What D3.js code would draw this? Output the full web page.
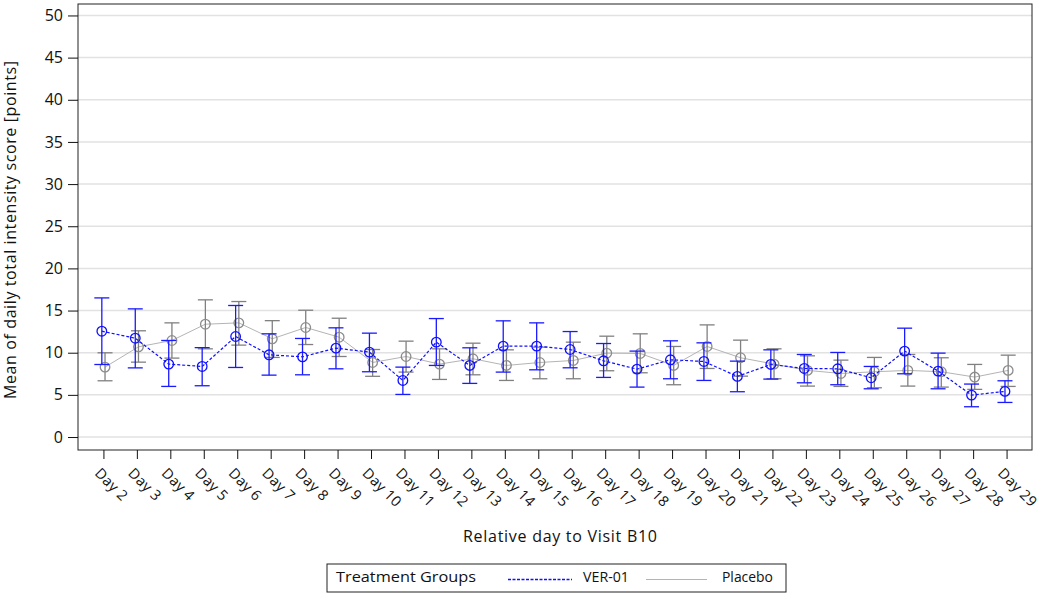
<!DOCTYPE html>
<html>
<head>
<meta charset="utf-8">
<script src="https://cdn.jsdelivr.net/npm/d3@7"></script>
<style>
  body { margin: 0; background: #fff; font-family: "Open Sans", Lato, sans-serif; }
  .axis text { font-family: "Open Sans", Lato, sans-serif; font-size: 16px; fill: #111; }
  .x-axis text { font-size: 14.5px; letter-spacing: 0.3px; }
  .axis path, .axis line { stroke: #111; }
  .grid line { stroke: #e2e2e2; stroke-width: 1.5; }
  .axisLabel { font-size: 16px; fill: #111; }
  .legend-text { font-size: 15px; fill: #111; }
</style>
</head>
<body>
<div id="chart"></div>
<script>
// Mean daily total intensity score by relative day, VER-01 vs Placebo
const days = ["Day 2", "Day 3", "Day 4", "Day 5", "Day 6", "Day 7", "Day 8", "Day 9", "Day 10",
  "Day 11", "Day 12", "Day 13", "Day 14", "Day 15", "Day 16", "Day 17", "Day 18", "Day 19",
  "Day 20", "Day 21", "Day 22", "Day 23", "Day 24", "Day 25", "Day 26", "Day 27", "Day 28", "Day 29"];

const verMean  = [12.55, 11.72, 8.65, 8.37, 11.92, 9.75, 9.51, 10.54, 10.07, 6.71, 11.25, 8.49, 10.78, 10.78,
  10.38, 9.04, 8.05, 9.16, 8.96, 7.19, 8.61, 8.13, 8.09, 7.03, 10.19, 7.82, 4.97, 5.41];
const verLow   = [8.6, 8.2, 6.0, 6.08, 8.25, 7.34, 7.38, 8.09, 7.74, 5.05, 8.49, 6.36, 7.7, 7.97,
  8.21, 7.07, 5.92, 6.91, 6.71, 5.37, 6.87, 6.43, 6.2, 5.72, 7.5, 5.72, 3.59, 4.1];
const verHigh  = [16.5, 15.2, 11.45, 10.6, 15.6, 12.24, 11.69, 12.95, 12.32, 8.29, 14.05, 10.58, 13.78, 13.54,
  12.51, 11.09, 10.19, 11.41, 11.17, 9.0, 10.34, 9.79, 10.03, 8.37, 12.91, 9.95, 6.28, 6.67];

const plaMean  = [8.29, 10.7, 11.45, 13.38, 13.54, 11.65, 12.99, 11.84, 8.84, 9.55, 8.65, 9.28, 8.49, 8.84,
  9.08, 9.95, 9.91, 8.49, 10.74, 9.4, 8.65, 7.9, 7.54, 7.74, 7.9, 7.74, 7.11, 7.9];
const plaLow   = [6.67, 8.88, 9.36, 10.46, 10.9, 9.44, 10.97, 9.55, 7.2, 7.7, 6.83, 7.38, 6.71, 6.91,
  6.91, 7.86, 7.62, 6.2, 8.13, 7.22, 6.91, 6.04, 6.0, 5.84, 6.04, 5.92, 5.65, 6.0];
const plaHigh  = [9.99, 12.6, 13.54, 16.27, 16.07, 13.8, 15.04, 14.09, 10.38, 11.37, 10.46, 11.13, 10.34, 10.66,
  11.25, 11.96, 12.24, 10.74, 13.3, 11.49, 10.46, 9.63, 9.12, 9.44, 9.79, 9.4, 8.61, 9.71];

const yTicks = [0, 5, 10, 15, 20, 25, 30, 35, 40, 45, 50];

const groups = [
  { name: "VER-01", mean: verMean, low: verLow, high: verHigh, color: "#1010ff", barColor: "#1a1aff",
    dash: "3,2", lineWidth: 1.2, offset: -1.6, lineColor: "#1010ff" },
  { name: "Placebo", mean: plaMean, low: plaLow, high: plaHigh, color: "#8c8c8c", barColor: "#808080",
    dash: null, lineWidth: 1, offset: 1.6, lineColor: "#b4b4b4" }
];

const width = 1044, height = 594;
const margin = { top: 4, right: 12, bottom: 144, left: 78 };
const plot_width = width - margin.left - margin.right;
const plot_height = height - margin.top - margin.bottom;

const canvas = d3.select("#chart").append("svg")
  .attr("width", width).attr("height", height);

const plot = canvas.append("g")
  .attr("transform", `translate(${margin.left},${margin.top})`);

const xScale = d3.scalePoint()
  .domain(days)
  .range([0, plot_width])
  .padding(0.76);

const yScale = d3.scaleLinear()
  .domain([-1.54, 51.36])
  .range([plot_height, 0]);

// GRID
plot.append("g").attr("class", "grid")
  .selectAll("line").data(yTicks).join("line")
  .attr("x1", 0).attr("x2", plot_width)
  .attr("y1", d => yScale(d)).attr("y2", d => yScale(d));

// frame
plot.append("rect")
  .attr("width", plot_width).attr("height", plot_height)
  .style("fill", "none").style("stroke", "#222").style("stroke-width", 1);

// SERIES: placebo first so VER-01 sits on top
[groups[1], groups[0]].forEach(g => {
  const pts = days.map((d, i) => ({ day: d, mean: g.mean[i], low: g.low[i], high: g.high[i] }));
  const px = d => xScale(d.day) + g.offset;

  const line = d3.line().x(px).y(d => yScale(d.mean));
  const path = plot.append("path").datum(pts)
    .attr("d", line)
    .style("fill", "none")
    .style("stroke", g.lineColor)
    .style("stroke-width", g.lineWidth);
  if (g.dash) path.style("stroke-dasharray", g.dash);

  const bars = plot.append("g").selectAll("g").data(pts).join("g")
    .style("stroke", g.barColor).style("stroke-width", 1.3);
  bars.append("line")
    .attr("x1", px).attr("x2", px)
    .attr("y1", d => yScale(d.low)).attr("y2", d => yScale(d.high));
  bars.append("line")
    .attr("x1", d => px(d) - 7.5).attr("x2", d => px(d) + 7.5)
    .attr("y1", d => yScale(d.high)).attr("y2", d => yScale(d.high));
  bars.append("line")
    .attr("x1", d => px(d) - 7.5).attr("x2", d => px(d) + 7.5)
    .attr("y1", d => yScale(d.low)).attr("y2", d => yScale(d.low));

  plot.append("g").selectAll("circle").data(pts).join("circle")
    .attr("cx", px).attr("cy", d => yScale(d.mean))
    .attr("r", 4.8)
    .style("fill", "none")
    .style("stroke", g.color)
    .style("stroke-width", 1.3);
});

// AXES
const yAxis = plot.append("g")
  .attr("class", "axis y-axis")
  .call(d3.axisLeft(yScale).tickValues(yTicks).tickSize(10).tickPadding(5).tickSizeOuter(0));
yAxis.select(".domain").remove();

const xAxis = plot.append("g")
  .attr("class", "axis x-axis")
  .attr("transform", `translate(0,${plot_height})`)
  .call(d3.axisBottom(xScale).tickSize(9).tickSizeOuter(0));
xAxis.select(".domain").remove();
xAxis.selectAll("text")
  .attr("x", 0).attr("y", 0).attr("dy", 0)
  .attr("text-anchor", "start")
  .attr("transform", "translate(-10,24) rotate(45)");

// AXIS LABELS
plot.append("text")
  .attr("class", "axisLabel")
  .attr("x", plot_width / 2 + 5)
  .attr("y", plot_height + 92)
  .attr("text-anchor", "middle")
  .attr("textLength", 194)
  .attr("lengthAdjust", "spacing")
  .text("Relative day to Visit B10");

plot.append("text")
  .attr("class", "axisLabel")
  .attr("transform", "rotate(-90)")
  .attr("x", -226)
  .attr("y", -62)
  .attr("text-anchor", "middle")
  .attr("textLength", 338)
  .attr("lengthAdjust", "spacing")
  .text("Mean of daily total intensity score [points]");

// LEGEND
const legend = canvas.append("g").attr("transform", "translate(327,564)");
legend.append("rect")
  .attr("width", 459).attr("height", 28)
  .style("fill", "none").style("stroke", "#222").style("stroke-width", 1);

const legendTexts = [
  { text: "Treatment Groups", x: 9, len: 140 },
  { text: groups[0].name, x: 256, len: 46 },
  { text: groups[1].name, x: 395, len: 51 }
];
legend.selectAll("text").data(legendTexts).join("text")
  .attr("class", "legend-text")
  .attr("x", d => d.x).attr("y", 18)
  .attr("textLength", d => d.len)
  .attr("lengthAdjust", "spacingAndGlyphs")
  .text(d => d.text);

legend.append("line")
  .attr("x1", 181).attr("x2", 245).attr("y1", 15.5).attr("y2", 15.5)
  .style("stroke", groups[0].lineColor).style("stroke-dasharray", "3,1.5").style("stroke-width", 1.3);
legend.append("line")
  .attr("x1", 319).attr("x2", 380).attr("y1", 15.5).attr("y2", 15.5)
  .style("stroke", groups[1].lineColor).style("stroke-width", 1);
</script>
</body>
</html>
